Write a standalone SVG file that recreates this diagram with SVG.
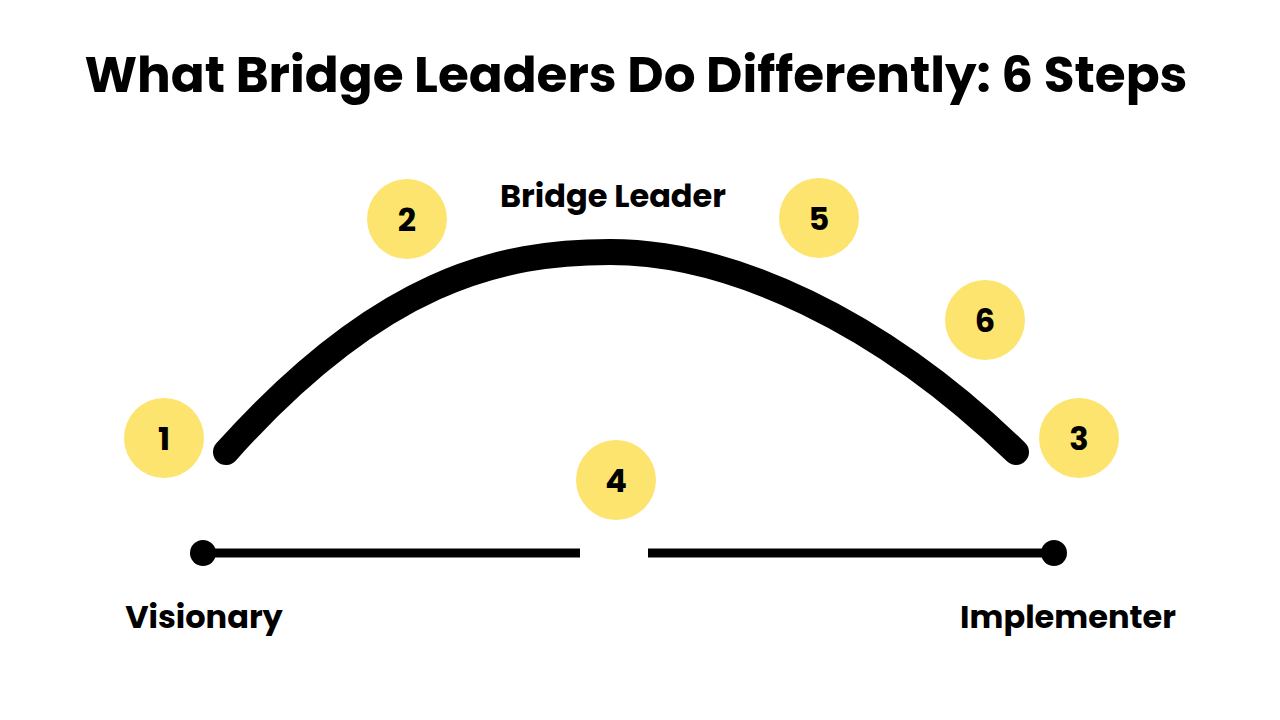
<svg xmlns="http://www.w3.org/2000/svg" width="1280" height="720" viewBox="0 0 1280 720">
<style>
text{font-family:"Poppins","Open Sans","Liberation Sans",sans-serif;font-weight:bold;fill:#000;text-anchor:middle}
.c{fill:#FDE46E}
.n{font-size:32px}
.l{font-size:32px}
</style>
<rect width="1280" height="720" fill="#fff"/>
<text x="636" y="92" style="font-size:50px">What Bridge Leaders Do Differently: 6 Steps</text>
<g id="connectors">
<path d="M226,452 C380,280 500,252 610,252 C730,252 880,320 1016,452" fill="none" stroke="#000" stroke-width="26" stroke-linecap="round"/>
<line x1="203" y1="553" x2="580" y2="553" stroke="#000" stroke-width="9"/>
<line x1="648" y1="553" x2="1054" y2="553" stroke="#000" stroke-width="9"/>
<circle cx="203" cy="553" r="13"/>
<circle cx="1054" cy="553" r="13"/>
</g>
<text class="l" x="613" y="207">Bridge Leader</text>
<text class="l" x="204" y="628">Visionary</text>
<text class="l" x="1068" y="628">Implementer</text>
<g id="n1"><circle class="c" cx="164" cy="438" r="40"/><text class="n" x="164" y="450">1</text></g>
<g id="n2"><circle class="c" cx="407" cy="219" r="40"/><text class="n" x="407" y="231">2</text></g>
<g id="n3"><circle class="c" cx="1079" cy="438" r="40"/><text class="n" x="1079" y="450">3</text></g>
<g id="n4"><circle class="c" cx="616" cy="480" r="40"/><text class="n" x="616" y="492">4</text></g>
<g id="n5"><circle class="c" cx="819" cy="218" r="40"/><text class="n" x="819" y="230">5</text></g>
<g id="n6"><circle class="c" cx="985" cy="320" r="40"/><text class="n" x="985" y="332">6</text></g>
</svg>
